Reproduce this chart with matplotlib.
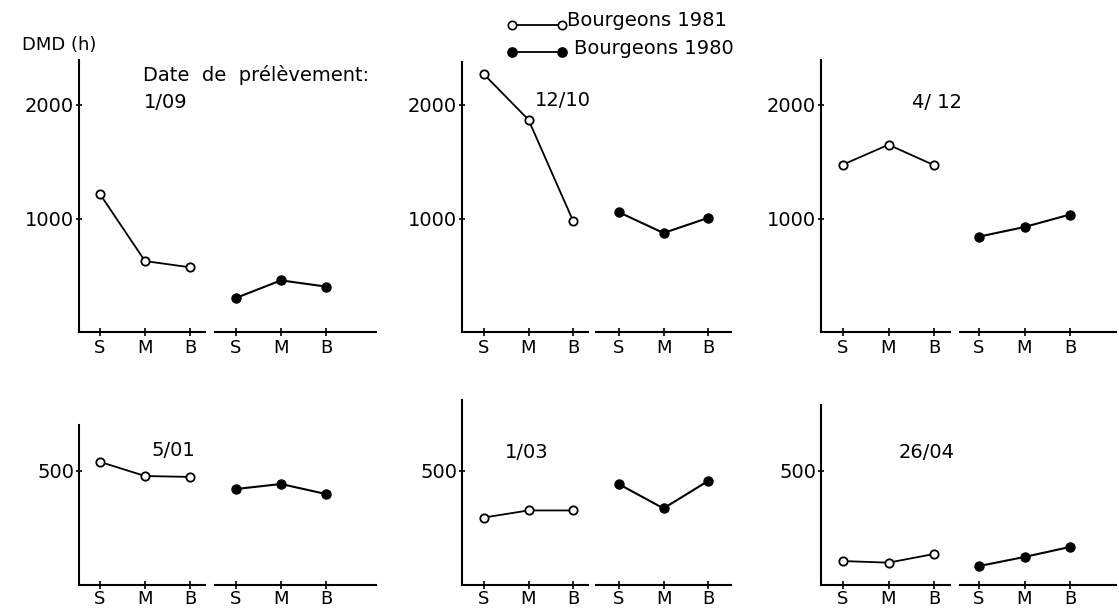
import matplotlib
matplotlib.use('Agg')
import matplotlib.pyplot as plt
from matplotlib.lines import Line2D

# positions de prélèvement sur le rameau
categories = ['S', 'M', 'B']

# dates de prélèvement (haut puis bas)
dates = ['1/09', '12/10', '4/ 12', '5/01', '1/03', '26/04']

# DMD (h) - bourgeons 1981 (cercles vides)
dmd_1981 = [
    [1215, 625, 570],
    [2270, 1870, 980],
    [1475, 1650, 1470],
    [540, 478, 474],
    [296, 327, 327],
    [105, 98, 136],
]
# DMD (h) - bourgeons 1980 (cercles pleins)
dmd_1980 = [
    [300, 455, 400],
    [1055, 872, 1005],
    [840, 925, 1035],
    [421, 443, 399],
    [442, 336, 456],
    [83, 123, 167],
]

yticks_top = [1000, 2000]
yticks_bottom = [500]

W, H = 1119, 610
fig = plt.figure(figsize=(W / 100, H / 100), dpi=100)
plt.rcParams['font.family'] = ['DejaVu Sans']
FS = 14


def px_axes(x0, x1, base, ymax, scale):
    # rectangle en pixels -> fraction de figure
    top = base - ymax * scale
    return fig.add_axes([x0 / W, 1 - base / H, (x1 - x0) / W, (base - top) / H])


# colonne: (axe y, fin groupe 1, début groupe 2, fin groupe 2, position S1, S2, pas)
cols = [
    (79, 205, 215, 376, 100, 236, 45.0),
    (462, 588, 596, 731, 484, 619, 44.5),
    (821, 950, 960, 1116, 843, 979, 45.5),
]
# lignes: (ligne de base px, px par unité, ymax par colonne, ticks, pad)
rows = [
    (332, 0.1135, [2400, 2380, 2400], yticks_top, 2),
    (585, 0.228, [700, 810, 790], yticks_bottom, 0.5),
]
date_pos = [(166, 103), (563, 100), (937, 103), (173, 451), (527, 452), (927, 452)]

k = 0
for base, scale, ymaxs, yt, pad in rows:
    for c, (xa, x1, x2, x3, s1, s2, step) in enumerate(cols):
        ymax = ymaxs[c]
        ax1 = px_axes(xa, x1, base, ymax, scale)
        ax2 = px_axes(x2, x3, base, ymax, scale)
        ax1.set_xlim((xa - s1) / step, (x1 - s1) / step)
        ax2.set_xlim((x2 - s2) / step, (x3 - s2) / step)
        for ax in (ax1, ax2):
            ax.set_ylim(0, ymax)
            ax.patch.set_visible(False)
            for sp in ['top', 'right']:
                ax.spines[sp].set_visible(False)
            ax.spines['bottom'].set_linewidth(1.5)
            ax.set_xticks(range(3))
            ax.set_xticklabels(categories, fontsize=13)
            ax.tick_params(axis='x', direction='inout', length=6, width=1.2, pad=pad)
        ax1.spines['left'].set_linewidth(1.5)
        ax1.set_yticks(yt)
        ax1.set_yticklabels([str(v) for v in yt], fontsize=FS)
        ax1.tick_params(axis='y', direction='inout', length=5, width=1.2, pad=1)
        ax2.spines['left'].set_visible(False)
        ax2.set_yticks([])

        ax1.plot(range(3), dmd_1981[k], color='black', lw=1.3, marker='o',
                 ms=6, mfc='white', mec='black', mew=1.3, clip_on=False)
        ax2.plot(range(3), dmd_1980[k], color='black', lw=1.5, marker='o',
                 ms=6.5, mfc='black', mec='black', clip_on=False)

        dx, dy = date_pos[k]
        fig.text(dx / W, 1 - dy / H, dates[k], fontsize=FS, ha='center', va='center')
        k += 1

fig.text(22 / W, 1 - 45 / H, 'DMD (h)', fontsize=FS - 1, ha='left', va='center')
fig.text(143 / W, 1 - 75 / H, 'Date  de  prélèvement:', fontsize=FS,
         ha='left', va='center')

# légende
for y_m, y_t, filled, label in [(25, 20, False, 'Bourgeons 1981'),
                                (52, 48, True, 'Bourgeons 1980')]:
    fig.add_artist(Line2D([512 / W, 562 / W], [1 - y_m / H, 1 - y_m / H],
                          color='black', lw=1.3, marker='o',
                          ms=6 if not filled else 6.5,
                          mfc='black' if filled else 'white', mec='black', mew=1.2))
    fig.text((567 if not filled else 574) / W, 1 - y_t / H, label, fontsize=FS,
             ha='left', va='center')

fig.savefig('out.png', dpi=100)
